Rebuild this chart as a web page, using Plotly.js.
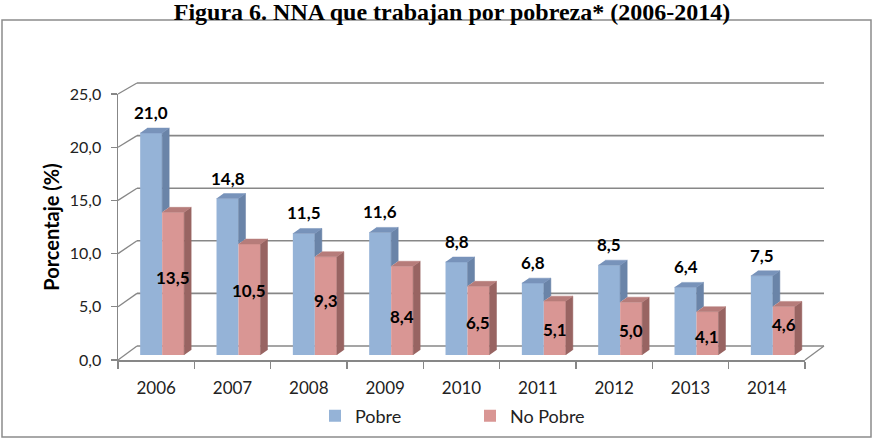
<!DOCTYPE html>
<html><head><meta charset="utf-8">
<script src="https://cdn.plot.ly/plotly-3.0.1.min.js"></script>
<style>html,body{margin:0;padding:0;background:#fff}#chart{width:876px;height:440px}</style>
</head><body><div id="chart"></div>
<script>
// ---- data ----
const years = ['2006','2007','2008','2009','2010','2011','2012','2013','2014'];
const pobre = [21.0,14.8,11.5,11.6,8.8,6.8,8.5,6.4,7.5];
const noPobre = [13.5,10.5,9.3,8.4,6.5,5.1,5.0,4.1,4.6];
const yTicks = [0,5,10,15,20,25];
const seriesNames = ['Pobre','No Pobre'];

// ---- geometry / style ----
const W=876,H=440,L=118,R=824,T=83,B=360;
const pw=R-L, ph=B-T;
const px=p=>(p-L)/pw, py=p=>(B-p)/ph;
const grid='#878787';
const idx = years.map((_,i)=>i);
const w = 0.288, dx = 0.092, dy = 0.47;
const fmt = v => v.toFixed(1).replace('.',',');
const pinkShift = [6,9,5,-6,-2,-1,-2,-3,6];

const cBlue='#95B3D7', cBlueSide='#6A84A8', cBlueTop='#7893BA';
const cPink='#D99694', cPinkSide='#986462', cPinkTop='#B67C7A';

function poly(fn){const xs=[],ys=[];idx.forEach(i=>{const p=fn(i);p.forEach(q=>{xs.push(q[0]);ys.push(q[1]);});xs.push(null);ys.push(null);});return {xs,ys};}
function face(fn,color){const p=poly(fn);return {type:'scatter',mode:'lines',x:p.xs,y:p.ys,fill:'toself',fillcolor:color,line:{color:color,width:0.5},xaxis:'x2',yaxis:'y2',showlegend:false,hoverinfo:'skip'};}

const traces=[
 {type:'scatter',mode:'markers',x:idx,y:idx.map(()=>null),xaxis:'x',yaxis:'y',showlegend:false,hoverinfo:'skip'},
 {type:'bar',name:seriesNames[0],x:idx,y:pobre,width:w,offset:-w,marker:{color:cBlue},xaxis:'x2',yaxis:'y2',hoverinfo:'skip'},
 {type:'bar',name:seriesNames[1],x:idx,y:noPobre,width:w,offset:0,marker:{color:cPink},xaxis:'x2',yaxis:'y2',hoverinfo:'skip'},
 face(i=>[[i,noPobre[i]],[i,pobre[i]],[i+dx,pobre[i]+dy],[i+dx,noPobre[i]+dy]],cBlueSide),
 face(i=>[[i-w,pobre[i]],[i,pobre[i]],[i+dx,pobre[i]+dy],[i-w+dx,pobre[i]+dy]],cBlueTop),
 face(i=>[[i+w,0],[i+w,noPobre[i]],[i+w+dx,noPobre[i]+dy],[i+w+dx,dy]],cPinkSide),
 face(i=>[[i,noPobre[i]],[i+w,noPobre[i]],[i+w+dx,noPobre[i]+dy],[i+dx,noPobre[i]+dy]],cPinkTop)
];

const shapes=[];
yTicks.forEach(v=>{
  shapes.push({type:'line',xref:'paper',yref:'paper',layer:'below',x0:px(137),x1:1,y0:py(346-10.52*v),y1:py(346-10.52*v),line:{color:grid,width:1.6}});
  shapes.push({type:'line',xref:'paper',yref:'paper',layer:'below',x0:0,x1:px(137),y0:py(360-10.64*v),y1:py(346-10.52*v),line:{color:grid,width:1.3}});
});
shapes.push({type:'line',xref:'paper',yref:'paper',layer:'below',x0:px(805),x1:1,y0:0,y1:py(346),line:{color:grid,width:1.3}});
shapes.push({type:'rect',xref:'paper',yref:'paper',layer:'below',x0:px(2),x1:px(871),y0:py(437),y1:py(20),line:{color:'#8c8c8c',width:1.5}});

const annotations=[];
idx.forEach(i=>{
  annotations.push({xref:'x2',yref:'y2',x:i-w/2,y:pobre[i],text:fmt(pobre[i]),showarrow:false,yanchor:'bottom',yshift:8,font:{family:'Lato',size:17,weight:'bold',color:'#000'}});
  annotations.push({xref:'x2',yref:'y2',x:i+w/2,y:noPobre[i]/2,text:fmt(noPobre[i]),showarrow:false,yanchor:'middle',yshift:pinkShift[i],font:{family:'Lato',size:17,weight:'bold',color:'#000'}});
});

const layout={
  width:W,height:H,margin:{l:L,r:W-R,t:T,b:H-B,pad:0,autoexpand:false},
  paper_bgcolor:'#fff',plot_bgcolor:'rgba(0,0,0,0)',
  separators:',.',
  title:{text:'Figura 6. NNA que trabajan por pobreza* (2006-2014)',xref:'container',yref:'container',x:452/876,xanchor:'center',y:1-3/440,yanchor:'top',pad:{t:0},font:{family:'Liberation Serif',size:24,weight:'bold',color:'#000'}},
  barmode:'overlay',
  showlegend:true,
  legend:{orientation:'h',xref:'container',yref:'container',x:315/876,xanchor:'left',y:1-416/440,yanchor:'middle',font:{family:'Lato',size:18,color:'#222'},entrywidth:110,entrywidthmode:'pixels',traceorder:'normal'},
  xaxis:{domain:[0,px(805)],range:[-0.5,8.5],tickmode:'array',tickvals:idx,ticktext:years,ticks:'',showline:true,linecolor:grid,linewidth:1.5,showgrid:false,zeroline:false,ticklabelstandoff:12,tickfont:{family:'Lato',size:17,color:'#222'},
    minor:{tickmode:'array',tickvals:idx.map(i=>i-0.5).concat([8.5]),ticks:'outside',ticklen:7,tickcolor:grid,tickwidth:1.3,showgrid:false},fixedrange:true},
  yaxis:{domain:[0,py(94)],range:[0,25],tickmode:'array',tickvals:yTicks,tickformat:'.1f',ticks:'outside',ticklen:6,tickcolor:grid,tickwidth:1.3,showline:true,linecolor:grid,linewidth:1.5,showgrid:false,zeroline:false,ticklabelstandoff:6,tickfont:{family:'Lato',size:16,color:'#222'},
    title:{text:'Porcentaje (%)',standoff:5,font:{family:'Lato',size:20,weight:'bold',color:'#000'}},fixedrange:true},
  xaxis2:{domain:[px(124),px(811)],range:[-0.5,8.5],visible:false,anchor:'y2',fixedrange:true},
  yaxis2:{domain:[py(355),py(90.75)],range:[0,25],visible:false,anchor:'x2',fixedrange:true},
  shapes:shapes,annotations:annotations
};
Plotly.newPlot('chart',traces,layout,{staticPlot:true,displayModeBar:false});
</script></body></html>
